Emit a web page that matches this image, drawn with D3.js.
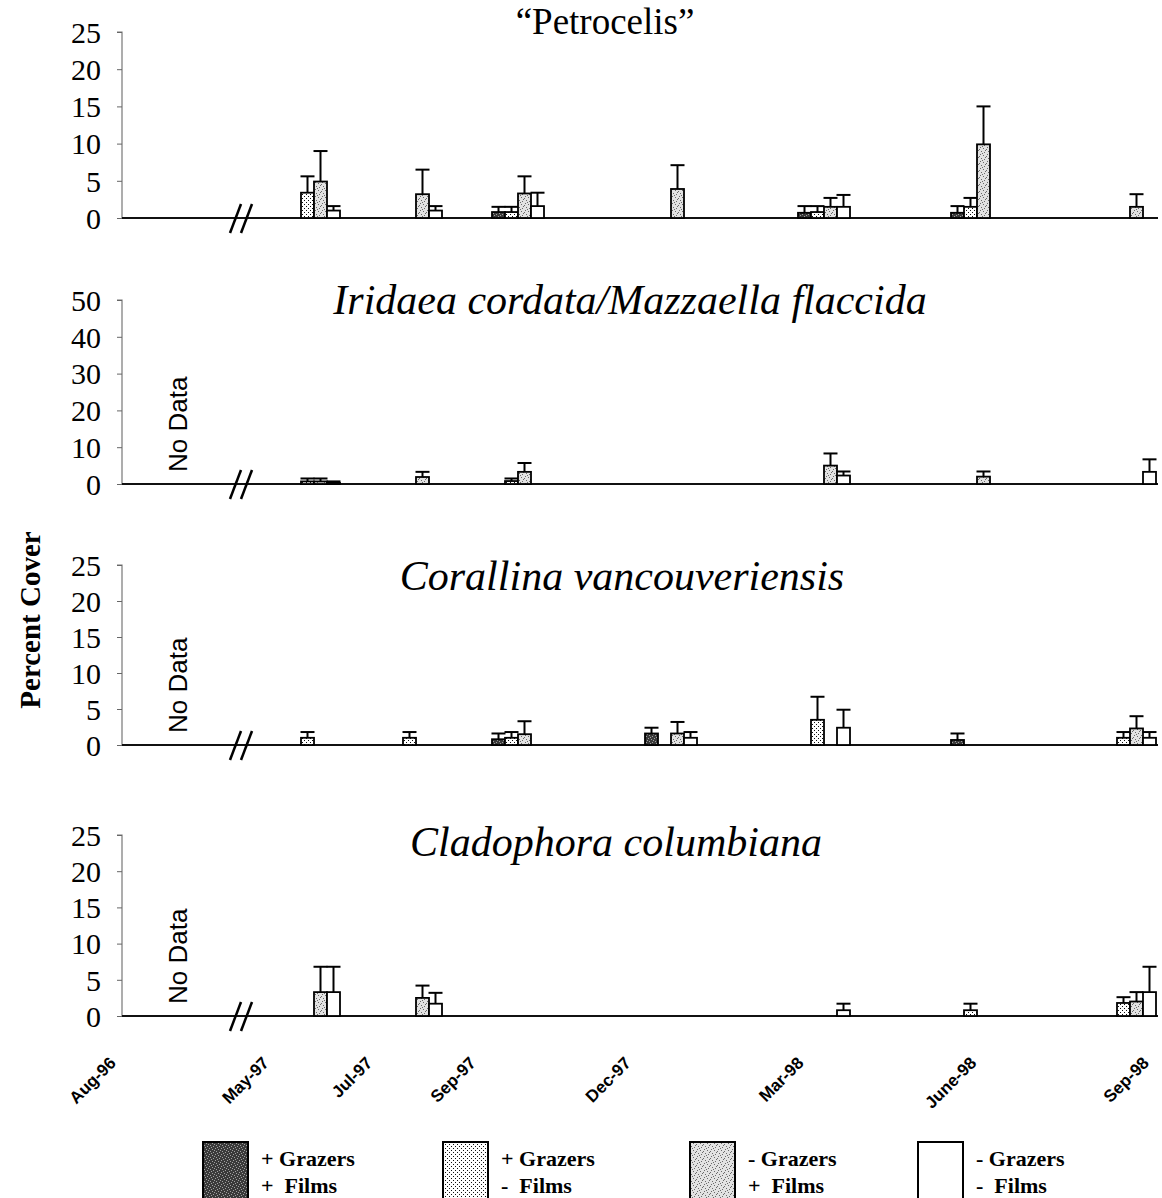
<!DOCTYPE html>
<html>
<head>
<meta charset="utf-8">
<script src="https://cdn.jsdelivr.net/npm/d3@7"></script>
<style>
  body { margin: 0; background: #fff; }
  svg { display: block; }
</style>
</head>
<body>
<svg id="chart" width="1162" height="1198"></svg>
<script>
// sampling dates (month number counted from Jan-96 = 1)
const dates = ["Aug-96", "May-97", "Jul-97", "Sep-97", "Dec-97", "Mar-98", "June-98", "Sep-98"];
const months = [8, 17, 19, 21, 24, 27, 30, 33];

const treatments = ["gf", "gn", "nf", "nn"];
const legendLines = [["+ Grazers", "+  Films"], ["+ Grazers", "-  Films"], ["- Grazers", "+  Films"], ["- Grazers", "-  Films"]];

const panelTitles = ["\u201cPetrocelis\u201d", "Iridaea cordata/Mazzaella flaccida", "Corallina vancouveriensis", "Cladophora columbiana"];
const panelMax = [25, 50, 25, 25];
const panelStep = [5, 10, 5, 5];

// means (percent cover) per treatment, one value per date
const petroMean = {
  gf: [0, 0, 0, 0.8, 0, 0.7, 0.7, 0],
  gn: [0, 3.4, 0, 0.8, 0, 0.8, 1.5, 0],
  nf: [0, 4.9, 3.2, 3.3, 3.9, 1.5, 9.9, 1.5],
  nn: [0, 1, 1, 1.6, 0, 1.5, 0, 0]
};
const petroErr = {
  gf: [0, 0, 0, 0.7, 0, 0.9, 0.9, 0],
  gn: [0, 2.2, 0, 0.7, 0, 0.8, 1.2, 0],
  nf: [0, 4.1, 3.3, 2.3, 3.2, 1.2, 5.1, 1.7],
  nn: [0, 0.6, 0.6, 1.8, 0, 1.6, 0, 0]
};
const iridaeaMean = {
  gf: [null, 0, 0, 0, 0, 0, 0, 0],
  gn: [null, 0.7, 0, 0.8, 0, 0, 0, 0],
  nf: [null, 0.7, 1.9, 3.3, 0, 5, 2, 0],
  nn: [null, 0.3, 0, 0, 0, 2.3, 0, 3.3]
};
const iridaeaErr = {
  gf: [null, 0, 0, 0, 0, 0, 0, 0],
  gn: [null, 0.8, 0, 0.7, 0, 0, 0, 0],
  nf: [null, 0.8, 1.4, 2.4, 0, 3.3, 1.4, 0],
  nn: [null, 0.4, 0, 0, 0, 1.1, 0, 3.4]
};
const corallinaMean = {
  gf: [null, 0, 0, 0.8, 1.6, 0, 0.7, 0],
  gn: [null, 1, 1, 1, 0, 3.5, 0, 1],
  nf: [null, 0, 0, 1.5, 1.6, 0, 0, 2.3],
  nn: [null, 0, 0, 0, 1, 2.4, 0, 1]
};
const corallinaErr = {
  gf: [null, 0, 0, 0.8, 0.8, 0, 0.9, 0],
  gn: [null, 0.8, 0.8, 0.8, 0, 3.2, 0, 0.8],
  nf: [null, 0, 0, 1.8, 1.6, 0, 0, 1.7],
  nn: [null, 0, 0, 0, 0.8, 2.5, 0, 0.8]
};
const cladoMean = {
  gf: [null, 0, 0, 0, 0, 0, 0, 0],
  gn: [null, 0, 0, 0, 0, 0, 0.8, 1.8],
  nf: [null, 3.3, 2.5, 0, 0, 0, 0, 2],
  nn: [null, 3.3, 1.7, 0, 0, 0.8, 0, 3.3]
};
const cladoErr = {
  gf: [null, 0, 0, 0, 0, 0, 0, 0],
  gn: [null, 0, 0, 0, 0, 0, 0.9, 0.8],
  nf: [null, 3.5, 1.7, 0, 0, 0, 0, 1.3],
  nn: [null, 3.5, 1.5, 0, 0, 0.9, 0, 3.5]
};

const means = [petroMean, iridaeaMean, corallinaMean, cladoMean];
const errs = [petroErr, iridaeaErr, corallinaErr, cladoErr];

// layout
const axisX = 122, axisEnd = 1158;
const panelTop = [32, 300, 565, 835];
const panelBase = [218, 484, 745, 1016];
const titleX = [605, 630, 622, 616];
const titleY = [34, 314, 590, 856];
const barW = 13;

const svg = d3.select("#chart");

// fill patterns
const defs = svg.append("defs");
function addPattern(id, bg, dot, size, pts) {
  const p = defs.append("pattern").attr("id", id)
    .attr("patternUnits", "userSpaceOnUse").attr("width", size).attr("height", size);
  p.append("rect").attr("width", size).attr("height", size).attr("fill", bg);
  pts.forEach(d => p.append("rect").attr("x", d[0]).attr("y", d[1]).attr("width", 1).attr("height", 1).attr("fill", dot));
}
addPattern("pat-gf", "#3a3a3a", "#a0a0a0", 6, [[0, 0], [3, 1], [1, 3], [4, 4], [5, 2], [2, 5]]);
addPattern("pat-gn", "#ffffff", "#111", 4, [[0, 0], [2, 2]]);
addPattern("pat-nf", "#e2e2e2", "#6a6a6a", 7, [[0, 0], [3, 1], [6, 2], [1, 4], [4, 5], [2, 6], [5, 3]]);
const fills = { gf: "url(#pat-gf)", gn: "url(#pat-gn)", nf: "url(#pat-nf)", nn: "#fff" };

const x = d3.scaleLinear().domain([months[0], months[1], months[months.length - 1]]).range([168, 314, 1130]);
const xOff = d3.scaleBand().domain(treatments).range([-2 * barW, 2 * barW]);
// the date labels sit on their own (hand placed) axis row in the original figure
const xLabel = d3.scaleLinear().domain([months[0], months[1], months[4], months[7]]).range([117, 270, 632, 1150]);

panelTitles.forEach((title, i) => {
  const y = d3.scaleLinear().domain([0, panelMax[i]]).range([panelBase[i], panelTop[i]]);
  const g = svg.append("g");

  // y axis
  const yAxis = d3.axisLeft(y).tickValues(d3.range(0, panelMax[i] + 1, panelStep[i])).tickSize(5).tickPadding(16);
  const ya = g.append("g").attr("transform", `translate(${axisX},0)`).call(yAxis);
  ya.select(".domain").attr("stroke", "#777").attr("stroke-width", 1.2).attr("d", `M-5,${panelTop[i]}H0V${panelBase[i]}`);
  ya.selectAll(".tick line").attr("stroke", "#666");
  ya.selectAll(".tick text")
    .attr("fill", "#000")
    .style("font-family", "'Liberation Serif', 'Times New Roman', serif")
    .style("font-size", "30px")
    .attr("dy", "0.34em");

  // baseline
  g.append("line")
    .attr("x1", axisX).attr("x2", axisEnd)
    .attr("y1", panelBase[i]).attr("y2", panelBase[i])
    .attr("stroke", "#111").attr("stroke-width", 2);

  // axis break
  [0, 11].forEach(dx => {
    g.append("line")
      .attr("x1", 230 + dx).attr("y1", panelBase[i] + 15)
      .attr("x2", 241 + dx).attr("y2", panelBase[i] - 14)
      .attr("stroke", "#000").attr("stroke-width", 2.5);
  });

  // title
  g.append("text")
    .attr("x", titleX[i]).attr("y", titleY[i])
    .attr("text-anchor", "middle")
    .style("font-family", "'Liberation Serif', 'Times New Roman', serif")
    .style("font-size", i === 0 ? "37px" : "42px")
    .style("font-style", i === 0 ? "normal" : "italic")
    .text(title);

  // no data note for Aug-96
  if (means[i].gf[0] === null) {
    g.append("text")
      .attr("transform", `translate(${x(months[0]) + 19},${panelBase[i] - 12}) rotate(-90)`)
      .style("font-family", "'Liberation Sans', Arial, sans-serif")
      .style("font-size", "26px")
      .text("No Data");
  }

  // bars and error bars
  treatments.forEach(t => {
    const rows = months.map((m, j) => ({ m: m, v: means[i][t][j], e: errs[i][t][j] }))
      .filter(d => d.v !== null && d.v > 0);
    const cx = d => x(d.m) + xOff(t) + barW / 2;

    g.selectAll(null).data(rows.filter(d => d.e > 0)).enter().append("line")
      .attr("x1", cx).attr("x2", cx)
      .attr("y1", d => y(d.v)).attr("y2", d => y(d.v + d.e))
      .attr("stroke", "#000").attr("stroke-width", 2);
    g.selectAll(null).data(rows.filter(d => d.e > 0)).enter().append("line")
      .attr("x1", d => cx(d) - 7).attr("x2", d => cx(d) + 7)
      .attr("y1", d => y(d.v + d.e)).attr("y2", d => y(d.v + d.e))
      .attr("stroke", "#000").attr("stroke-width", 2);

    g.selectAll(null).data(rows).enter().append("rect")
      .attr("x", d => x(d.m) + xOff(t))
      .attr("y", d => y(d.v))
      .attr("width", barW)
      .attr("height", d => panelBase[i] - y(d.v))
      .attr("fill", fills[t])
      .attr("stroke", "#000").attr("stroke-width", 1.8);
  });
});

// date labels
svg.append("g").selectAll("text").data(dates).enter().append("text")
  .attr("transform", (d, j) => `translate(${xLabel(months[j])},${panelBase[3] + 48}) rotate(-45)`)
  .attr("text-anchor", "end")
  .style("font-family", "'Liberation Sans', Arial, sans-serif")
  .style("font-size", "17px")
  .style("font-weight", "bold")
  .text(d => d);

// y label
svg.append("text")
  .attr("transform", "translate(40,620) rotate(-90)")
  .attr("text-anchor", "middle")
  .style("font-family", "'Liberation Serif', 'Times New Roman', serif")
  .style("font-size", "29px")
  .style("font-weight", "bold")
  .text("Percent Cover");

// legend
const legX = [203, 443, 690, 918];
const lg = svg.append("g").selectAll("g").data(treatments).enter().append("g")
  .attr("transform", (d, k) => `translate(${legX[k]},1142)`);
lg.append("rect")
  .attr("width", 45).attr("height", 58)
  .attr("fill", d => fills[d])
  .attr("stroke", "#000").attr("stroke-width", 2);
lg.each(function (d, k) {
  d3.select(this).selectAll("text").data(legendLines[k]).enter().append("text")
    .attr("x", 58).attr("y", (s, r) => 24 + r * 27)
    .style("font-family", "'Liberation Serif', 'Times New Roman', serif")
    .style("font-size", "22px")
    .style("font-weight", "bold")
    .attr("xml:space", "preserve")
    .style("white-space", "pre")
    .text(s => s);
});
</script>
</body>
</html>
